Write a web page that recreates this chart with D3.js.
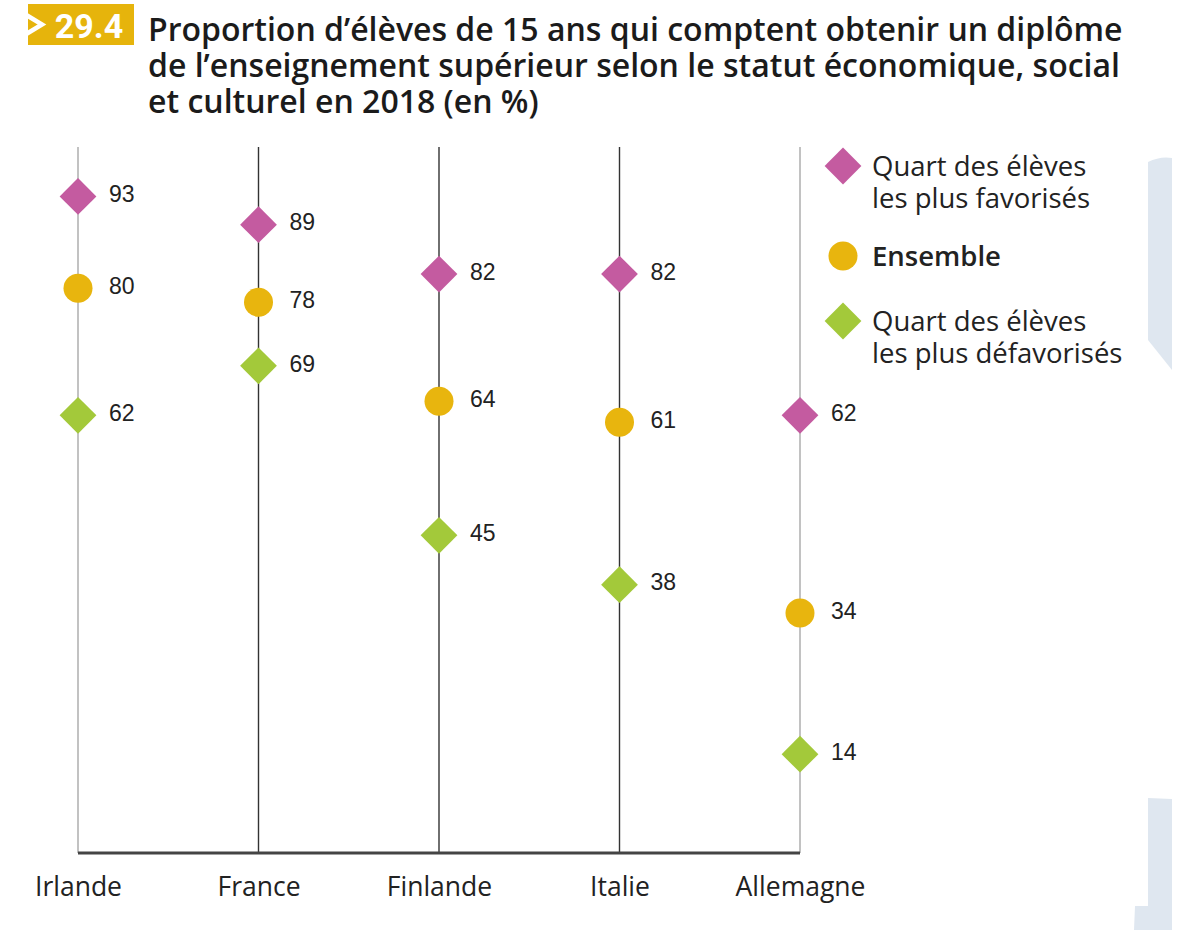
<!DOCTYPE html>
<html><head><meta charset="utf-8">
<script src="https://cdn.jsdelivr.net/npm/d3@7/dist/d3.min.js"></script>
<style>
html,body{margin:0;padding:0;background:#fff;}
svg{display:block;}
</style></head>
<body>
<svg id="chart" width="1187" height="951"></svg>
<script>
const countries = ["Irlande","France","Finlande","Italie","Allemagne"];
const favorises = [93,89,82,82,62];
const ensemble = [80,78,64,61,34];
const defavorises = [62,69,45,38,14];
const titleLines = ["Proportion d\u2019élèves de 15 ans qui comptent obtenir un diplôme",
  "de l\u2019enseignement supérieur selon le statut économique, social",
  "et culturel en 2018 (en %)"];
const badgeLabel = "29.4";
const seriesNames = [["Quart des élèves","les plus favorisés"],["Ensemble"],["Quart des élèves","les plus défavorisés"]];

const colors = {fav:"#C45BA0", ens:"#E8B50E", def:"#A3C93A"};
const svg = d3.select("#chart");

// decorative shapes at right edge
svg.append("path").attr("d","M1148,162 Q1160,156 1172,158 L1172,370 L1148,340 Z").attr("fill","#dfe7f0");
svg.append("path").attr("d","M1148,798 L1172,799 L1172,930 L1134,930 L1135,906 L1148,906 Z").attr("fill","#dfe7f0");

// badge
svg.append("rect").attr("x",28).attr("y",4).attr("width",106).attr("height",41).attr("fill","#E6B40C");
svg.append("path").attr("d","M23,13 L42,24.5 L23,36").attr("fill","none").attr("stroke","#fff").attr("stroke-width",4.5);
svg.append("text").attr("x",89).attr("y",38).attr("text-anchor","middle")
  .attr("font-family","Roboto, 'Open Sans', sans-serif").attr("font-weight",700).attr("font-size",34)
  .attr("fill","#fff").text(badgeLabel);

// title (one text element, lines as tspans)
const title = svg.append("text").attr("x",148).attr("y",41)
  .attr("font-family","'Open Sans', sans-serif").attr("font-weight",600).attr("font-size",32)
  .attr("fill","#1b1b1b");
title.selectAll("tspan").data(titleLines).join("tspan")
  .attr("x",148).attr("dy",(d,i)=> i===0 ? 0 : 36).text(d=>d);

const x = d3.scalePoint().domain(countries).range([78,800]);
const y = d3.scaleLinear().domain([0,100]).range([853,147]);

// vertical lines
svg.append("g").selectAll("line").data(countries).join("line")
  .attr("x1",d=>x(d)).attr("x2",d=>x(d)).attr("y1",y(100)).attr("y2",y(0))
  .attr("stroke",(d,i)=> (i===0||i===countries.length-1) ? "#999" : "#333")
  .attr("stroke-width",(d,i)=> (i===0||i===countries.length-1) ? 1.2 : 1.4);

// bottom axis
const xAxis = d3.axisBottom(x).tickSize(0).tickPadding(24);
const ax = svg.append("g").attr("transform",`translate(0,${y(0)})`).call(xAxis);
ax.select(".domain").attr("stroke","#444").attr("stroke-width",3).attr("d",`M${x(countries[0])},0H${x(countries[countries.length-1])}`);
ax.selectAll("text").attr("font-family","'Open Sans', sans-serif")
  .attr("font-size",26.5).attr("fill","#222").attr("dy","0.71em");

const diamond = d3.symbol().type(d3.symbolSquare).size(26*26);
const g = svg.append("g");

function drawDiamonds(vals, color){
  g.append("g").selectAll("path").data(vals).join("path")
    .attr("d",diamond)
    .attr("transform",(d,i)=>`translate(${x(countries[i])},${y(d)}) rotate(45)`)
    .attr("fill",color);
}
drawDiamonds(favorises, colors.fav);
drawDiamonds(defavorises, colors.def);
g.append("g").selectAll("circle").data(ensemble).join("circle")
  .attr("cx",(d,i)=>x(countries[i])).attr("cy",d=>y(d)).attr("r",14.5).attr("fill",colors.ens);

// value labels
[favorises, ensemble, defavorises].forEach(vals=>{
  g.append("g").selectAll("text").data(vals).join("text")
    .attr("x",(d,i)=>x(countries[i])+31).attr("y",d=>y(d)).attr("dy","0.25em")
    .attr("font-family","'Liberation Sans', Arial, sans-serif").attr("font-size",23)
    .attr("fill","#222").text(d=>d);
});

// legend
const leg = svg.append("g");
const legY = [166,256,321];
leg.append("path").attr("d",diamond).attr("transform",`translate(843,${legY[0]}) rotate(45)`).attr("fill",colors.fav);
leg.append("circle").attr("cx",843).attr("cy",legY[1]).attr("r",14.5).attr("fill",colors.ens);
leg.append("path").attr("d",diamond).attr("transform",`translate(843,${legY[2]}) rotate(45)`).attr("fill",colors.def);
seriesNames.forEach((lines,k)=>{
  const t = leg.append("text").attr("x",872).attr("y",legY[k]+10)
    .attr("font-family","'Open Sans', sans-serif").attr("font-size",27.5)
    .attr("font-weight", k===1 ? 600 : 400).attr("fill","#222");
  t.selectAll("tspan").data(lines).join("tspan")
    .attr("x",872).attr("dy",(d,j)=> j===0 ? 0 : 32).text(d=>d);
});
</script>
</body></html>
